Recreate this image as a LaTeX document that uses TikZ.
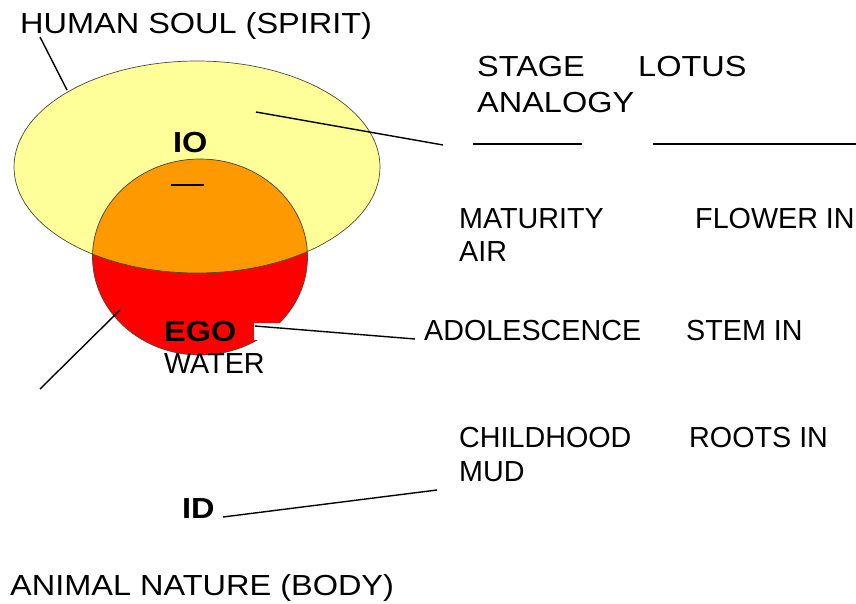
\documentclass[tikz,border=0pt]{standalone}
\usepackage{fontspec}
\setmainfont{Liberation Sans}[FakeStretch=1.12]
\newfontfamily\narrowsans{Liberation Sans}[FakeStretch=0.99]
\usetikzlibrary{positioning}
\definecolor{SoulYellow}{HTML}{FFFF99}
\definecolor{EgoOrange}{HTML}{FF9900}
\definecolor{EgoRed}{HTML}{FF0000}
\definecolor{RimGray}{HTML}{4A4A3A}

\begin{document}
\begin{tikzpicture}[x=1pt,y=-1pt,
  lbl/.style={anchor=base west,inner sep=0pt,font=\fontsize{29}{33}\selectfont},
  nlbl/.style={lbl,font=\fontsize{29}{33}\selectfont\narrowsans},
  bld/.style={lbl,font=\fontsize{29}{33}\selectfont\bfseries},
  lead/.style={line width=1.4pt,black},
  rim/.style={RimGray,line width=0.7pt}]
  \useasboundingbox (0,0) rectangle (856,603);
  % soul ellipse, ego circle and their overlap
  \fill[SoulYellow] (197,167) ellipse [x radius=183,y radius=106];
  \fill[EgoRed] (200,257) ellipse [x radius=107.5,y radius=98];
  \begin{scope}
    \clip (197,167) ellipse [x radius=183,y radius=106];
    \fill[EgoOrange] (200,257) ellipse [x radius=107.5,y radius=98];
  \end{scope}
  \draw[rim] (197,167) ellipse [x radius=183,y radius=106];
  \draw[rim] (200,257) ellipse [x radius=107.5,y radius=98];
  \fill[white] (254,323) rectangle (292,340);

  % labels
  \node[lbl] (soul) at (20,33) {HUMAN SOUL (SPIRIT)};
  \node[lbl] (stage) at (477,76) {STAGE};
  \node[lbl] (lotus) at (638,76) {LOTUS};
  \node[lbl] (analogy) at (477,112) {ANALOGY};
  \node[nlbl] (maturity) at (459,228) {MATURITY};
  \node[nlbl] (flower) at (695,228) {FLOWER IN};
  \node[nlbl] (air) at (459,261) {AIR};
  \node[nlbl] (adolescence) at (424,340) {ADOLESCENCE};
  \node[nlbl] (stem) at (686,340) {STEM IN};
  \node[nlbl] (childhood) at (459,447) {CHILDHOOD};
  \node[nlbl] (roots) at (689,447) {ROOTS IN};
  \node[nlbl] (mud) at (459,481) {MUD};
  \node[bld] (io) at (173,152) {IO};
  \node[bld] (ego) at (164,341) {EGO};
  \node[nlbl] (water) at (164,373) {WATER};
  \node[bld] (id) at (182,518) {ID};
  \node[lbl] (animal) at (10,595) {ANIMAL NATURE (BODY)};

  % leader lines
  \coordinate (soulA) at (40,37);
  \coordinate (soulB) at (67,90);
  \coordinate (ioA) at (256,112);
  \coordinate (ioB) at (443,145);
  \coordinate (redA) at (120,310);
  \coordinate (redB) at (40,389);
  \coordinate (egoA) at (255,326);
  \coordinate (idA) at (223,517);
  \coordinate (idB) at (437,490);
  \draw[lead] (soulA) -- (soulB);
  \draw[lead] (ioA) -- (ioB);
  \draw[lead] (redA) -- (redB);
  \draw[lead] (egoA) -- ([xshift=-9pt,yshift=1pt]adolescence.base west);
  \draw[lead] (idA) -- (idB);

  % column rules
  \coordinate (ruleA) at (473,144);
  \coordinate (ruleB) at (582,144);
  \coordinate (ruleC) at (653,144);
  \coordinate (ruleD) at (856,144);
  \draw[lead,line width=1.1pt] (ruleA) -- (ruleB);
  \draw[lead,line width=1.1pt] (ruleC) -- (ruleD);
  \draw[lead,line width=1.1pt] ([xshift=-2pt,yshift=-33pt]io.base west) -- ([xshift=31pt,yshift=-33pt]io.base west);
\end{tikzpicture}
\end{document}
